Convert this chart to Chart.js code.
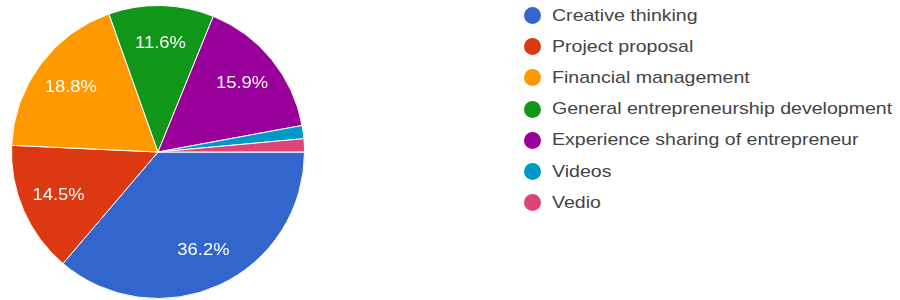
<!DOCTYPE html>
<html>
<head>
    <style>
        body, html {
            margin: 0;
            width: 900px;
            height: 300px;
            background: #fff;
            overflow: hidden;
        }
        #pieBox {
            position: absolute;
            left: 8px;
            top: 2px;
            width: 300px;
            height: 300px;
        }
        #legend {
            position: absolute;
            left: 524px;
            top: 0px;
            font-family: "Liberation Sans", Arial, sans-serif;
            font-size: 17px;
            color: #444444;
            white-space: nowrap;
        }
        .item {
            height: 31.2px;
            display: flex;
            align-items: center;
        }
        .dot {
            width: 17px;
            height: 17px;
            border-radius: 50%;
            margin-right: 11px;
        }
        /* the source text is a bit wider than Arial */
        .item span {
            display: inline-block;
            transform: scaleX(1.15);
            transform-origin: left center;
        }
    </style>
    <script src="https://cdn.jsdelivr.net/npm/chart.js"></script>
</head>
<body>
    <div id="pieBox"><canvas id="pie"></canvas></div>
    <div id="legend"></div>

    <script>
        const categories = ["Creative thinking", "Project proposal", "Financial management",
            "General entrepreneurship development", "Experience sharing of entrepreneur", "Videos", "Vedio"];
        const responses = [25, 10, 13, 8, 11, 1, 1];
        const colors = ['#3366cc', '#dc3912', '#ff9900', '#109618', '#990099', '#0099c6', '#dd4477'];

        const total = responses.reduce((a, b) => a + b, 0);

        // percent labels inside the slices (skip the tiny ones)
        const sliceLabels = {
            id: 'sliceLabels',
            afterDatasetsDraw(chart) {
                const ctx = chart.ctx;
                const meta = chart.getDatasetMeta(0);
                meta.data.forEach((arc, i) => {
                    const pct = responses[i] / total * 100;
                    if (pct < 5) return;
                    const mid = (arc.startAngle + arc.endAngle) / 2;
                    const r = arc.outerRadius * 0.74;
                    ctx.save();
                    ctx.translate(arc.x + Math.cos(mid) * r, arc.y + Math.sin(mid) * r);
                    ctx.scale(1.15, 1);
                    ctx.font = '16px "Liberation Sans", Arial, sans-serif';
                    ctx.fillStyle = '#ffffff';
                    ctx.textAlign = 'center';
                    ctx.textBaseline = 'middle';
                    ctx.fillText(pct.toFixed(1) + '%', 0, 0);
                    ctx.restore();
                });
            }
        };

        new Chart(document.getElementById('pie'), {
            type: 'pie',
            data: {
                labels: categories,
                datasets: [{
                    data: responses,
                    backgroundColor: colors,
                    borderColor: '#ffffff',
                    borderWidth: 1
                }]
            },
            options: {
                responsive: true,
                maintainAspectRatio: false,
                animation: false,
                rotation: 90,
                layout: { padding: 3 },
                plugins: {
                    legend: { display: false },
                    tooltip: { enabled: false }
                }
            },
            plugins: [sliceLabels]
        });

        // legend on the right
        const legend = document.getElementById('legend');
        categories.forEach((name, i) => {
            const row = document.createElement('div');
            row.className = 'item';
            const dot = document.createElement('div');
            dot.className = 'dot';
            dot.style.background = colors[i];
            const txt = document.createElement('span');
            txt.innerText = name;
            row.appendChild(dot);
            row.appendChild(txt);
            legend.appendChild(row);
        });
    </script>
</body>
</html>
